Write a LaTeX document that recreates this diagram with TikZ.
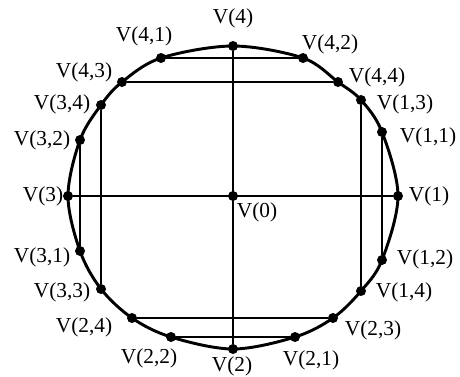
\documentclass[tikz,border=0pt]{standalone}
\usepackage{fontspec}
\setmainfont{Liberation Serif}
\usetikzlibrary{positioning}

\tikzset{
    dot/.style={circle, fill=black, inner sep=0pt, minimum size=7.5pt},
    lab/.style={font=\fontsize{16}{18}\selectfont, inner sep=1pt},
    rim/.style={line width=2.2pt},
    chord/.style={line width=1.4pt}
}

\begin{document}
\begin{tikzpicture}[x=0.75pt, y=-0.75pt]
    \useasboundingbox (0,0) rectangle (460,376);

    % Các đỉnh
    \foreach \n/\x/\y in {v0/233/196, v4/233/46, v42/303/58, v44/338/82, v13/361/100,
        v11/382/132, v1/398/196, v12/382/260, v14/361/291, v23/333/318, v21/295/337,
        v2/233/349, v22/171/337, v24/132/318, v33/101/289, v31/80/251, v3/68/196,
        v32/80/140, v34/101/105, v43/122/82, v41/161/58} {
        \node[dot] (\n) at (\x,\y) {};
    }

    % Đường cong bao quanh
    \draw[rim] plot[smooth cycle, tension=0.55] coordinates {(v4.center) (v42.center)
        (v44.center) (v13.center) (v11.center) (v1.center) (v12.center) (v14.center)
        (v23.center) (v21.center) (v2.center) (v22.center) (v24.center) (v33.center)
        (v31.center) (v3.center) (v32.center) (v34.center) (v43.center) (v41.center)};

    % Các dây cung
    \draw[chord] (v4) -- (v2);
    \draw[chord] (v3) -- (v1);
    \draw[chord] (v41) -- (v42);
    \draw[chord] (v43) -- (v44);
    \draw[chord] (v34) -- (v33);
    \draw[chord] (v32) -- (v31);
    \draw[chord] (v13) -- (v14);
    \draw[chord] (v11) -- (v12);
    \draw[chord] (v24) -- (v23);
    \draw[chord] (v22) -- (v21);

    % Nhãn
    \foreach \n/\x/\y/\t in {v0/257/212/{V(0)}, v4/233/18/{V(4)}, v42/330/44/{V(4,2)},
        v44/377/77/{V(4,4)}, v13/405/104/{V(1,3)}, v11/428/137/{V(1,1)}, v1/429/196/{V(1)},
        v12/425/259/{V(1,2)}, v14/404/292/{V(1,4)}, v23/373/330/{V(2,3)}, v21/311/360/{V(2,1)},
        v2/232/366/{V(2)}, v22/149/358/{V(2,2)}, v24/84/327/{V(2,4)}, v33/62/292/{V(3,3)},
        v31/42/257/{V(3,1)}, v3/43/196/{V(3)}, v32/42/140/{V(3,2)}, v34/62/104/{V(3,4)},
        v43/84/72/{V(4,3)}, v41/144/36/{V(4,1)}} {
        \node[lab] (l\n) at (\x,\y) {\t};
    }
\end{tikzpicture}
\end{document}
